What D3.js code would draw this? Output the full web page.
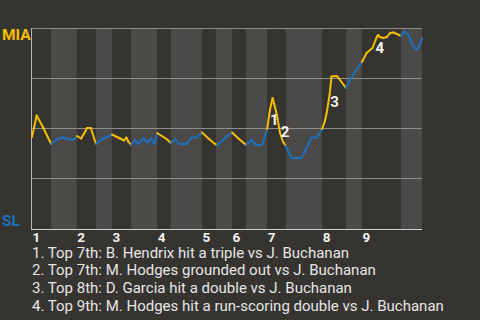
<!DOCTYPE html>
<html><head><meta charset="utf-8">
<script src="https://cdn.jsdelivr.net/npm/d3@7"></script>
<style>
html,body{margin:0;padding:0;background:#363431;}
svg{display:block;}
text{font-family:Roboto,"Noto Sans",sans-serif;}
</style></head>
<body>
<svg id="chart" width="480" height="320"></svg>
<script>
// Half-inning boundaries on a 0-100 game-progress scale (top 1st ... bottom 9th)
const halfInningBounds = [0, 4.9, 11.5, 16.4, 20.5, 25.4, 32.1, 35.6, 43.6, 47.2, 51.3, 54.9, 60.3, 65.1, 74.4, 80.5, 84.6, 94.6, 100];
const inningLabels = ["1","2","3","4","5","6","7","8","9"];
// Game progress for each play
const playProgress = [
  0, 1.2, 2.8, 4.9,
  6.2, 7.2, 7.9, 8.7, 9.7, 10.8, 11.5,
  12.6, 13.3, 14.1, 15.1, 16.4,
  17.9, 19.5, 20.5,
  22.6, 23.6, 24.2, 24.7, 25.4,
  26.4, 27.3, 28.5, 29.6, 30.6, 31.4, 32.1,
  33.3, 34.5, 35.6,
  36.8, 37.7, 39.7, 40.9, 42.2, 43.6,
  45.4, 46.9,
  47.4, 48.7, 49.9, 51.3,
  52.8, 54.9,
  56.3, 57.4, 59.0, 60.0, 60.3,
  61.0, 61.7, 62.1, 62.8, 63.6, 64.4, 65.1,
  66.5, 69.1, 70.4, 71.7, 73.0, 74.4,
  75.1, 75.6, 76.3, 76.8, 78.1, 78.5, 80.5,
  81.8, 83.1, 84.1, 84.6,
  85.8, 87.3, 88.3, 88.7, 89.2, 90.1, 91.0, 91.8, 92.7, 93.6, 94.6,
  95.6, 96.5, 97.6, 98.6, 99.4, 100
];
// MIA win probability (%) after each play
const miaWinPct = [
  45.5, 56.25, 50.5, 42,
  44, 45, 45.25, 44.75, 44.25, 44.25, 46,
  44.75, 47, 50, 50, 42,
  44.5, 45.75, 46.75,
  44.75, 43.75, 45.25, 43.25, 41.5,
  44, 42, 44.75, 42.75, 44.75, 42, 47.5,
  46, 44.5, 42.5,
  44.5, 42, 42, 45.25, 45.25, 47.75,
  44.5, 42,
  41.5, 43.5, 45.75, 47.75,
  45, 41.5,
  44, 41.5, 41.5, 47.5, 49.5,
  59, 65, 62, 56.5, 47.5, 43, 41,
  35, 35, 40, 45.25, 45.25, 49.5,
  53.5, 58, 66.5, 75.75, 76, 75.25, 70,
  74.75, 79, 81.5, 83,
  87.5, 90, 95, 96.5, 95.5, 95, 95.5, 97.5, 97.75, 97, 96,
  98.25, 96.75, 91.5, 89, 91.5, 95
];
// Key plays: marker progress, marker win %, description
const keyPlayNums = ["1","2","3","4"];
const keyPlayProgress = [62.1, 64.9, 77.6, 89.2];
const keyPlayPct = [54, 48, 63, 90];
const keyPlayText = [
  "1. Top 7th: B. Hendrix hit a triple vs J. Buchanan",
  "2. Top 7th: M. Hodges grounded out vs J. Buchanan",
  "3. Top 8th: D. Garcia hit a double vs J. Buchanan",
  "4. Top 9th: M. Hodges hit a run-scoring double vs J. Buchanan"
];
const yTicks = [0, 25, 50, 75, 100];
const teams = ["MIA", "SL"];

const BG = "#363431", LIGHT = "#4b4a48", YEL = "#f7bd00", BLUE = "#1c70bd";
const svg = d3.select("#chart");
const x = d3.scaleLinear().domain([0, 100]).range([32, 422]);
const y = d3.scaleLinear().domain([0, 100]).range([228, 28]);

// bands
const bands = d3.pairs(halfInningBounds).map((p, i) => ({x0: p[0], x1: p[1], top: i % 2 === 0}));
svg.append("g").selectAll("rect").data(bands).join("rect")
  .attr("x", d => x(d.x0)).attr("width", d => x(d.x1) - x(d.x0))
  .attr("y", y(100)).attr("height", y(0) - y(100) + 1)
  .attr("fill", d => d.top ? BG : LIGHT);

// gridlines
svg.append("g").selectAll("line").data(yTicks.filter(t => t > 0)).join("line")
  .attr("x1", x(0)).attr("x2", x(100))
  .attr("y1", d => Math.round(y(d)) + 0.5).attr("y2", d => Math.round(y(d)) + 0.5)
  .attr("stroke", "#8e8d8b").attr("stroke-width", 1);

// axes lines
svg.append("line").attr("x1", x(0) - 0.5).attr("x2", x(0) - 0.5)
  .attr("y1", y(100)).attr("y2", y(0) + 2).attr("stroke", "#b5b4b2");
svg.append("line").attr("x1", x(0) - 1).attr("x2", x(100))
  .attr("y1", y(0) + 1.5).attr("y2", y(0) + 1.5).attr("stroke", "#d0d0d0");

// win probability line segments
const pts = playProgress.map((p, i) => [p, miaWinPct[i]]);
const segs = d3.pairs(pts).map(([a, b]) => {
  const mid = (a[0] + b[0]) / 2;
  let idx = halfInningBounds.findIndex((v, i) => i > 0 && mid <= v) - 1;
  return {a, b, top: idx % 2 === 0};
});
const line = d3.line().x(d => x(d[0])).y(d => y(d[1]));
svg.append("g").selectAll("path").data(segs).join("path")
  .attr("d", d => line([d.a, d.b]))
  .attr("fill", "none").attr("stroke-width", 2).attr("stroke-linecap", "round")
  .attr("stroke", d => d.top ? YEL : BLUE);

// key play markers
svg.append("g").selectAll("text").data(keyPlayNums).join("text")
  .attr("x", (d, i) => x(keyPlayProgress[i])).attr("y", (d, i) => y(keyPlayPct[i]))
  .attr("text-anchor", "middle").attr("dominant-baseline", "central")
  .attr("font-size", 15).attr("font-weight", "bold").attr("fill", "#f0f0f0")
  .text(d => d);

// inning labels
const topStarts = halfInningBounds.filter((v, i) => i % 2 === 0 && i < 18);
svg.append("g").selectAll("text").data(inningLabels).join("text")
  .attr("x", (d, i) => x(topStarts[i]) + 0.5).attr("y", 241.5)
  .attr("font-size", 13.5).attr("font-weight", "bold").attr("fill", "#f2f2f2")
  .text(d => d);

// team labels
svg.append("text").attr("x", 2).attr("y", 39.5).attr("font-size", 15.5).attr("font-weight", "bold")
  .attr("fill", YEL).text(teams[0]);
svg.append("text").attr("x", 2).attr("y", 225.5).attr("font-size", 15.5).attr("font-weight", "bold")
  .attr("fill", BLUE).text(teams[1]);

// key play descriptions
svg.append("g").selectAll("text").data(keyPlayText).join("text")
  .attr("x", 32).attr("y", (d, i) => 257.5 + i * 17.8)
  .attr("font-size", 15).attr("fill", "#e6e6e6")
  .text(d => d);
</script>
</body></html>
